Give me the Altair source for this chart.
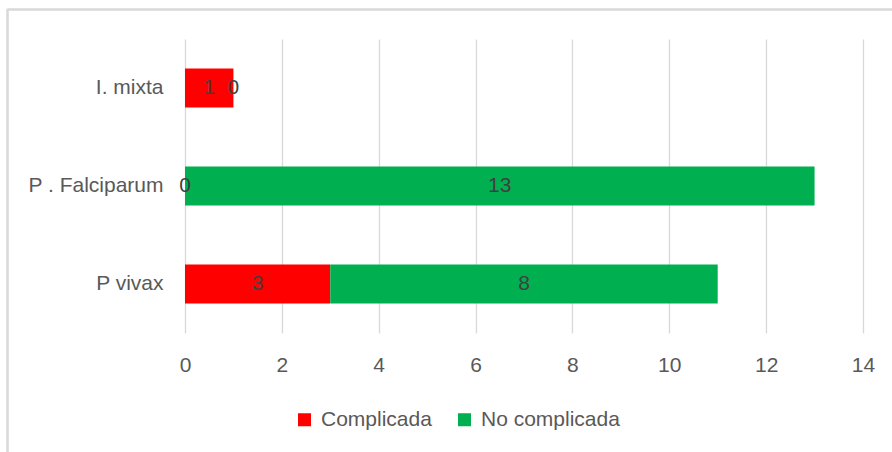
import altair as alt
import pandas as pd

# Cases by parasite species and severity
species = ["I. mixta", "P . Falciparum", "P vivax"]
complicada = [1, 0, 3]
no_complicada = [0, 13, 8]
series = ["Complicada", "No complicada"]
colors = ["#FF0000", "#00B050"]
x_ticks = [0, 2, 4, 6, 8, 10, 12, 14]

rows = []
for i, sp in enumerate(species):
    rows.append({"especie": sp, "tipo": series[0], "casos": complicada[i], "orden": 0})
    rows.append({"especie": sp, "tipo": series[1], "casos": no_complicada[i], "orden": 1})
df = pd.DataFrame(rows)

FONT = "Liberation Sans"
W, H = 678, 294
PAD = {"left": 185, "top": 39, "right": 892 - 185 - W, "bottom": 452 - 39 - H}

base = alt.Chart(df).transform_stack(
    stack="casos", groupby=["especie"], as_=["x0", "x1"],
    sort=[alt.SortField("orden", order="ascending")],
).transform_calculate(mid="(datum.x0 + datum.x1) / 2")

y_enc = alt.Y(
    "especie:N", sort=species, title=None,
    scale=alt.Scale(paddingInner=0.6, paddingOuter=0.3),
    axis=alt.Axis(domain=False, ticks=False, grid=False, labelPadding=22,
                  labelFont=FONT, labelFontSize=21, labelColor="#595959", labelLimit=300),
)

bars = base.mark_bar().encode(
    x=alt.X("x0:Q", title=None,
            scale=alt.Scale(domain=[0, 14], nice=False),
            axis=alt.Axis(values=x_ticks, domain=False, ticks=False, grid=True,
                          gridColor="#D9D9D9", gridWidth=1.3, labelPadding=21,
                          labelFlush=False,
                          labelFont=FONT, labelFontSize=21, labelColor="#595959")),
    x2="x1:Q",
    y=y_enc,
    color=alt.Color("tipo:N", scale=alt.Scale(domain=series, range=colors),
                    legend=alt.Legend(title=None, orient="none", direction="horizontal",
                                      legendX=109, legendY=370, padding=0,
                                      symbolType="square", symbolSize=169,
                                      symbolStrokeWidth=0, symbolOpacity=1,
                                      labelFont=FONT, labelFontSize=21,
                                      labelColor="#595959", labelOffset=6,
                                      columnPadding=22)),
    order=alt.Order("orden:Q"),
)

labels = base.mark_text(font=FONT, fontSize=21, color="#404040",
                        align="center", baseline="middle").encode(
    x="mid:Q",
    y=alt.Y("especie:N", sort=species),
    text="casos:Q",
)

# Outer frame edges of the chart area
frame_left = alt.Chart(df).mark_rule(color="#D9D9D9", strokeWidth=1.5).encode(
    x=alt.value(-177.5), y=alt.value(-29.5), y2=alt.value(452 - 39))
frame_top = alt.Chart(df).mark_rule(color="#D9D9D9", strokeWidth=1.5).encode(
    x=alt.value(-177.5), x2=alt.value(892 - 185), y=alt.value(-29.5))

chart = alt.layer(frame_left, frame_top, bars, labels).properties(
    width=W, height=H, padding=PAD,
    autosize=alt.AutoSizeParams(type="none"),
    background="white",
).configure_view(stroke=None)

chart.save("out.html", embed_options={"renderer": "svg", "actions": False})
